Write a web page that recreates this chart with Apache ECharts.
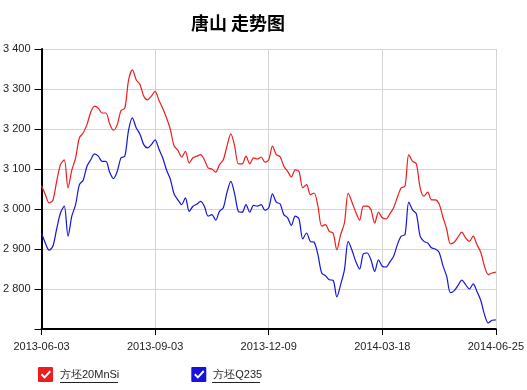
<!DOCTYPE html>
<html>
<head>
<meta charset="utf-8">
<script src="https://cdn.jsdelivr.net/npm/echarts@6/dist/echarts.min.js"></script>
<style>html,body{margin:0;padding:0;background:#fff;}#c{width:527px;height:390px;}</style>
</head>
<body>
<div id="c"></div>
<script>
var xTickLabels = ['2013-06-03', '2013-09-03', '2013-12-09', '2014-03-18', '2014-06-25'];
var seriesNames = ['方坯20MnSi', '方坯Q235'];
var red = [3058,3036,3015,3022,3069,3111,3123,3053,3097,3128,3178,3190,3211,3242,3257,3252,3240,3240,3213,3197,3211,3246,3252,3323,3348,3323,3311,3282,3273,3282,3294,3272,3252,3228,3200,3158,3147,3130,3144,3115,3128,3132,3136,3123,3103,3100,3092,3111,3123,3158,3188,3158,3113,3113,3132,3113,3128,3125,3130,3117,3123,3157,3136,3131,3107,3094,3080,3098,3094,3053,3061,3036,3040,3007,2957,2961,2944,2940,2898,2936,2965,3040,3017,2992,2972,3007,3007,2998,2965,2992,2978,2975,2988,3003,3030,3053,3057,3136,3119,3113,3053,3032,3042,3023,3023,3013,2980,2950,2913,2917,2930,2942,2928,2919,2932,2911,2892,2857,2836,2840,2842];
var blue = [2940,2915,2897,2907,2950,2990,3007,2932,2982,3011,3061,3072,3107,3123,3138,3132,3119,3119,3092,3076,3094,3128,3132,3198,3228,3203,3187,3161,3153,3161,3173,3150,3128,3098,3075,3038,3023,3011,3028,2994,3007,3012,3019,3007,2982,2986,2972,2994,3003,3042,3069,3038,2994,2992,3011,2992,3009,3007,3011,2997,3003,3038,3017,3013,2986,2978,2959,2982,2975,2925,2940,2919,2917,2886,2840,2833,2823,2822,2780,2811,2848,2919,2897,2869,2850,2888,2890,2873,2844,2873,2857,2855,2868,2882,2911,2932,2936,3017,2998,2988,2932,2919,2915,2903,2900,2892,2859,2832,2791,2796,2809,2822,2811,2800,2813,2794,2772,2736,2715,2722,2723];
var yMin = 2700, yMax = 3400, yStep = 100;
var xStep = (red.length - 1) / (xTickLabels.length - 1);

var checkIcon = 'path://M1,0 L15,0 Q16,0 16,1 L16,15 Q16,16 15,16 L1,16 Q0,16 0,15 L0,1 Q0,0 1,0 Z M3,8.5 L7,12.5 L14,5 L12.5,3.5 L7,9.5 L4.5,7 Z';

var chart = echarts.init(document.getElementById('c'), null, {renderer: 'canvas'});
chart.setOption({
  animation: false,
  backgroundColor: '#ffffff',
  title: {
    text: '唐山 走势图',
    left: 186, top: 9,
    textStyle: {fontFamily: 'Noto Sans CJK SC', fontWeight: 'bold', fontSize: 18, color: '#000'}
  },
  legend: {
    left: 38, top: 367, padding: 0,
    itemWidth: 15, itemHeight: 15, itemGap: 72,
    icon: checkIcon,
    data: seriesNames,
    textStyle: {fontFamily: 'Liberation Sans, Arial', fontSize: 11, color: '#222', padding: [0, 0, 0, 2]}
  },
  grid: {left: 39, right: 31, top: 49, bottom: 61, containLabel: false},
  xAxis: {
    type: 'value', min: 0, max: red.length - 1, interval: xStep,
    axisLine: {show: true, onZero: false, lineStyle: {color: '#000', width: 2}},
    axisTick: {show: true, length: 6, lineStyle: {color: '#000', width: 1}},
    axisLabel: {
      margin: 12, fontFamily: 'Liberation Sans, Arial', fontSize: 11, color: '#222',
      showMinLabel: true, showMaxLabel: true,
      formatter: function (v) { var k = Math.round(v / xStep); return xTickLabels[k] || ''; }
    },
    splitLine: {show: true, lineStyle: {color: '#d4d4d4', width: 1}}
  },
  yAxis: {
    type: 'value', min: yMin, max: yMax, interval: yStep,
    axisLine: {show: true, lineStyle: {color: '#000', width: 2}},
    axisTick: {show: true, length: 7, lineStyle: {color: '#000', width: 1}},
    axisLabel: {
      margin: 11, fontFamily: 'Liberation Sans, Arial', fontSize: 11, color: '#222',
      formatter: function (v) {
        if (v === yMin) return '';
        var s = String(v);
        return s.slice(0, s.length - 3) + ' ' + s.slice(s.length - 3);
      }
    },
    splitLine: {show: true, lineStyle: {color: '#d4d4d4', width: 1}}
  },
  series: [
    {
      name: seriesNames[0], type: 'line', showSymbol: false, smooth: 0.3,
      color: '#ee1c1c',
      lineStyle: {width: 1.2, color: '#ee1c1c'},
      data: red.map(function (v, i) { return [i, v]; })
    },
    {
      name: seriesNames[1], type: 'line', showSymbol: false, smooth: 0.3,
      color: '#1414dc',
      lineStyle: {width: 1.2, color: '#1414dc'},
      data: blue.map(function (v, i) { return [i, v]; })
    }
  ],
  graphic: [
    {type: 'line', shape: {x1: 60, y1: 382.5, x2: 118, y2: 382.5}, style: {stroke: '#222', lineWidth: 1}, silent: true},
    {type: 'line', shape: {x1: 212, y1: 382.5, x2: 260, y2: 382.5}, style: {stroke: '#222', lineWidth: 1}, silent: true}
  ]
});
</script>
</body>
</html>
